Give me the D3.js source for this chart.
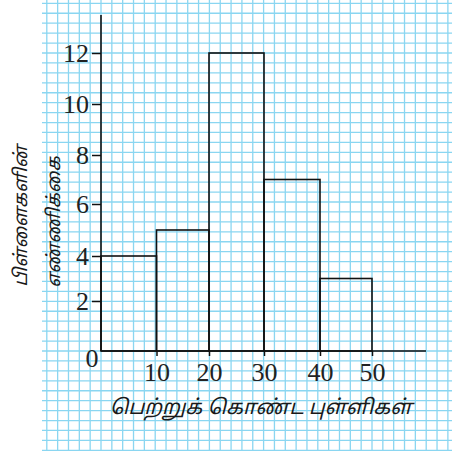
<!DOCTYPE html>
<html>
<head>
<meta charset="utf-8">
<script src="https://cdn.jsdelivr.net/npm/d3@7"></script>
<style>
  html, body { margin: 0; padding: 0; background: #fff; }
  svg { display: block; }
</style>
</head>
<body>
<svg id="chart" width="459" height="455"></svg>
<script>
// ---- data ----
const binEdges = [0, 10, 20, 30, 40, 50];
const frequencies = [4, 5, 12, 7, 3];
const xTickValues = [10, 20, 30, 40, 50];
const yTickValues = [2, 4, 6, 8, 10, 12];
const yTitleLines = ["பிள்ளைகளின்", "எண்ணிக்கை"];
const xTitle = "பெற்றுக் கொண்ட புள்ளிகள்";

const svg = d3.select("#chart");
const W = 459, H = 455;

// hand-drawn graph paper: axis spacing is slightly uneven
const x = d3.scaleLinear().domain([0, 10, 20, 30, 40, 50]).range([101, 156.5, 209, 264, 320, 372]);
const y = d3.scaleLinear().domain([0, 2, 4, 6, 8, 10, 12]).range([351, 301, 256, 204, 155, 104, 53]);
// regular grid of the paper
const gxs = d3.scaleLinear().domain([0, 50]).range([101, 372]);
const gys = d3.scaleLinear().domain([0, 12]).range([351, 53]);

svg.append("rect").attr("width", W).attr("height", H).attr("fill", "#fff");

// graph paper grid
const grid = svg.append("g").attr("stroke", "#8ad6f1").attr("stroke-width", 1.3);
const gx0 = 42, gx1 = 452, gy0 = 0, gy1 = 450;
const vLines = d3.range(-10, 65, 2);
grid.selectAll("line.v").data(vLines).join("line")
  .attr("x1", d => gxs(d)).attr("x2", d => gxs(d))
  .attr("y1", gy0).attr("y2", gy1);
const hLines = d3.range(-40, 144, 4).map(d => d / 10);
grid.selectAll("line.h").data(hLines).join("line")
  .attr("x1", gx0).attr("x2", gx1)
  .attr("y1", d => gys(d)).attr("y2", d => gys(d));

// bars
const bins = frequencies.map((f, i) => ({ x0: binEdges[i], x1: binEdges[i + 1], f }));
svg.append("g").selectAll("rect").data(bins).join("rect")
  .attr("x", d => x(d.x0)).attr("width", d => x(d.x1) - x(d.x0))
  .attr("y", d => y(d.f)).attr("height", d => y(0) - y(d.f))
  .attr("fill", "none").attr("stroke", "#111").attr("stroke-width", 1.6);

// axes
const serif = "'Liberation Serif', 'Times New Roman', serif";
svg.append("line").attr("x1", x(0)).attr("x2", 426).attr("y1", y(0)).attr("y2", y(0))
  .attr("stroke", "#111").attr("stroke-width", 1.6);
svg.append("line").attr("x1", x(0)).attr("x2", x(0)).attr("y1", y(0)).attr("y2", 15)
  .attr("stroke", "#111").attr("stroke-width", 1.6);

const yAxis = svg.append("g").attr("transform", `translate(${x(0)},0)`)
  .call(d3.axisLeft(y).tickValues(yTickValues).tickSize(9).tickPadding(3).tickFormat(d3.format("d")));
yAxis.select(".domain").remove();
yAxis.selectAll(".tick line").attr("stroke", "#111").attr("stroke-width", 1.5);
yAxis.selectAll(".tick text").attr("font-family", serif).attr("font-size", 26).attr("fill", "#222");

const xAxis = svg.append("g").attr("transform", `translate(0,${y(0)})`)
  .call(d3.axisBottom(x).tickValues(xTickValues).tickSize(5).tickPadding(7).tickFormat(d3.format("d")));
xAxis.select(".domain").remove();
xAxis.selectAll(".tick line").attr("stroke", "#111").attr("stroke-width", 1.5);
xAxis.selectAll(".tick text").attr("font-family", serif).attr("font-size", 26).attr("fill", "#222");

// origin label
svg.append("text").attr("x", 92).attr("y", 367).attr("text-anchor", "middle")
  .attr("font-family", serif).attr("font-size", 26).attr("fill", "#222").text("0");

// titles
const tamilFont = "'Noto Sans Tamil', 'Lohit Tamil', 'Noto Sans', sans-serif";
const yTitleX = [22, 55];
yTitleLines.forEach((t, i) => {
  svg.append("text")
    .attr("transform", `translate(${yTitleX[i]},${i === 0 ? 216 : 222}) rotate(-90)`)
    .attr("text-anchor", "middle").attr("dominant-baseline", "central")
    .attr("font-family", tamilFont).attr("font-style", "italic")
    .attr("font-size", 18.5).attr("fill", "#1a1a1a").text(t);
});
svg.append("text").attr("x", 261).attr("y", 409)
  .attr("text-anchor", "middle").attr("dominant-baseline", "central")
  .attr("font-family", tamilFont).attr("font-style", "italic")
  .attr("font-size", 20.5).attr("fill", "#1a1a1a").text(xTitle);
</script>
</body>
</html>
